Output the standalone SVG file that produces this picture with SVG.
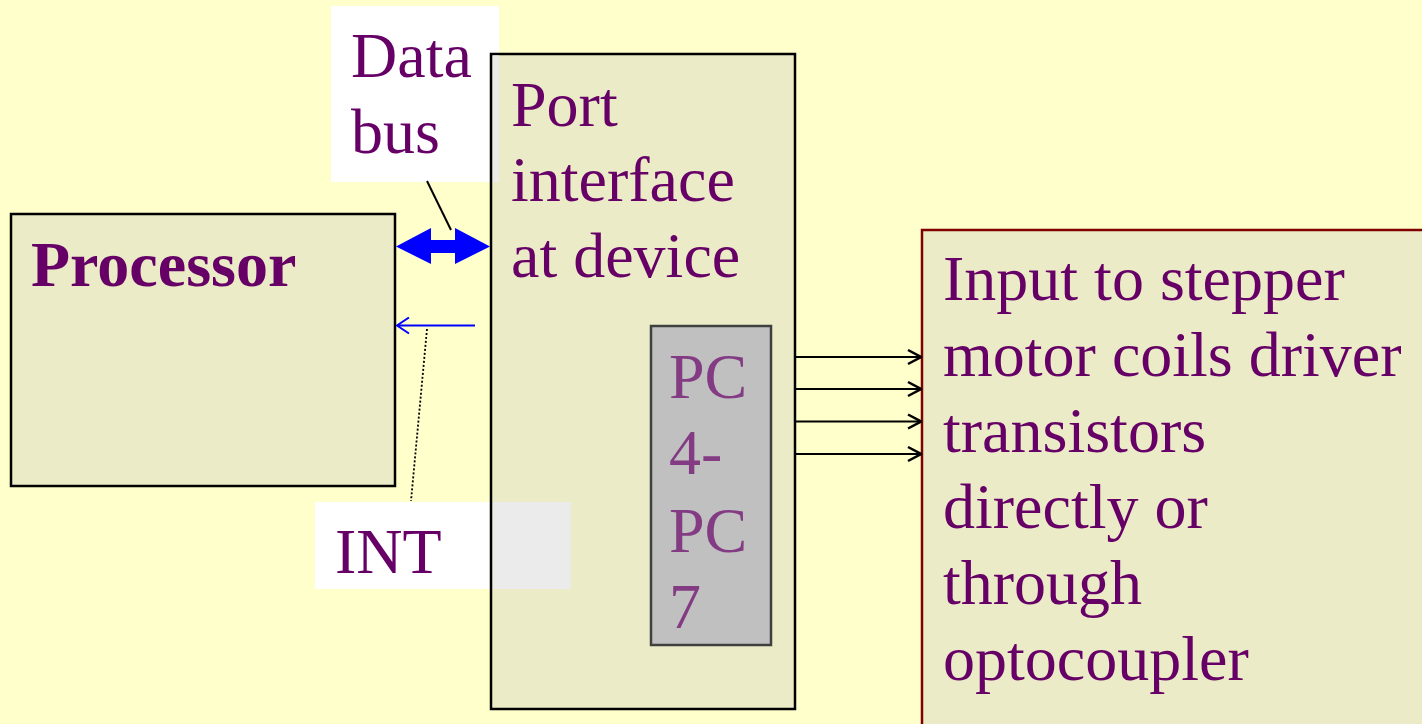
<svg xmlns="http://www.w3.org/2000/svg" width="1422" height="724" viewBox="0 0 1422 724">
  <style>
    .txt { font-family: "Liberation Serif", "Times New Roman", serif; font-size: 64px; fill: #660066; }
    .bold { font-weight: bold; }
    .pc { fill: #833C83; }
    .box { fill: #EBEBC8; stroke: #000000; stroke-width: 2.5; }
    .label { fill: #FFFFFF; }
    .overlap { fill: #EBEBEB; }
    .out { stroke: #000000; stroke-width: 2; fill: none; marker-end: url(#openHead); }
  </style>
  <defs>
    <marker id="openHead" viewBox="0 0 16 18" refX="15" refY="9" markerWidth="16" markerHeight="18" markerUnits="userSpaceOnUse" orient="auto">
      <path d="M2,2 L15,9 L2,16" fill="none" stroke="#000000" stroke-width="2.5"/>
    </marker>
    <marker id="blueHead" viewBox="0 0 14 18" refX="13" refY="9" markerWidth="14" markerHeight="18" markerUnits="userSpaceOnUse" orient="auto">
      <path d="M1,1 L13,9 L1,17" fill="none" stroke="#0000FF" stroke-width="2"/>
    </marker>
  </defs>

  <!-- page background -->
  <rect x="0" y="0" width="1422" height="724" fill="#FFFFCC"/>

  <!-- label boxes -->
  <g id="label-databus">
    <rect class="label" x="331" y="6" width="168" height="176"/>
    <text class="txt" x="351" y="77">Data</text>
    <text class="txt" x="351" y="153">bus</text>
  </g>
  <g id="label-int">
    <rect class="label" x="315" y="502" width="256" height="87"/>
    <text class="txt" x="335" y="573">INT</text>
  </g>

  <!-- processor -->
  <g id="processor">
    <rect class="box" x="11" y="214" width="384" height="272"/>
    <text class="txt bold" x="31" y="286">Processor</text>
  </g>

  <!-- port interface -->
  <g id="port-interface">
    <rect class="box" x="491" y="54" width="304" height="655"/>
    <rect class="overlap" x="493" y="55.5" width="6" height="126.5"/>
    <rect class="overlap" x="493" y="502" width="78" height="87"/>
    <text class="txt" x="511" y="126">Port</text>
    <text class="txt" x="511" y="201">interface</text>
    <text class="txt" x="511" y="277">at device</text>
  </g>

  <!-- port C upper bits -->
  <g id="port-pc4-pc7">
    <rect x="651" y="326" width="120" height="319" fill="#C0C0C0" stroke="#404040" stroke-width="2.5"/>
    <text class="txt pc" x="669" y="398">PC</text>
    <text class="txt pc" x="669" y="474">4-</text>
    <text class="txt pc" x="669" y="552">PC</text>
    <text class="txt pc" x="669" y="628">7</text>
  </g>

  <!-- stepper driver input -->
  <g id="stepper-driver">
    <rect x="922" y="230" width="520" height="520" fill="#EBEBC8" stroke="#800000" stroke-width="2.5"/>
    <text class="txt" x="943" y="300">Input to stepper</text>
    <text class="txt" x="943" y="376">motor coils driver</text>
    <text class="txt" x="943" y="452">transistors</text>
    <text class="txt" x="943" y="528">directly or</text>
    <text class="txt" x="943" y="604">through</text>
    <text class="txt" x="943" y="680">optocoupler</text>
  </g>

  <!-- connectors -->
  <g id="connectors">
    <!-- bidirectional data bus -->
    <polygon points="396,246.5 431,228 431,240 455,240 455,228 490,246.5 455,264 455,253 431,253 431,264" fill="#0000FF"/>
    <line x1="427" y1="181" x2="451" y2="230" stroke="#000000" stroke-width="2"/>
    <!-- interrupt line -->
    <line x1="475" y1="325.5" x2="397" y2="325.5" stroke="#0000FF" stroke-width="2" marker-end="url(#blueHead)"/>
    <line x1="427" y1="329" x2="411" y2="501" stroke="#000000" stroke-width="1.8" stroke-dasharray="2,2"/>
    <!-- PC4-PC7 outputs -->
    <line class="out" x1="795" y1="357" x2="921" y2="357"/>
    <line class="out" x1="795" y1="389" x2="921" y2="389"/>
    <line class="out" x1="795" y1="421.5" x2="921" y2="421.5"/>
    <line class="out" x1="795" y1="454" x2="921" y2="454"/>
  </g>
</svg>
